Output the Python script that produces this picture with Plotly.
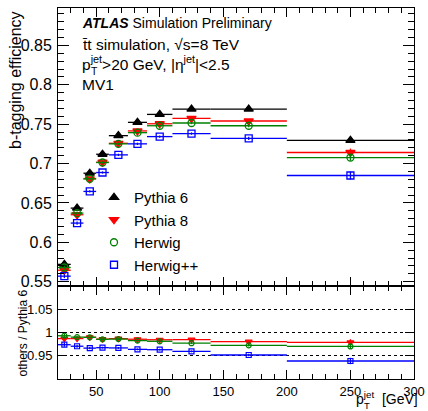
import plotly.graph_objects as go

# ---------------- data ----------------
pt_edges = [20, 30, 40, 50, 60, 75, 90, 110, 140, 200, 300]
pythia6 = [0.572, 0.6434, 0.6877, 0.7118, 0.7354, 0.7523, 0.7624, 0.7692, 0.7692, 0.7295]
pythia8 = [0.5645, 0.635, 0.6806, 0.7017, 0.7257, 0.7414, 0.7505, 0.7574, 0.754, 0.714]
herwig = [0.568, 0.637, 0.6806, 0.7013, 0.725, 0.7392, 0.748, 0.7515, 0.748, 0.7076]
herwigpp = [0.557, 0.6244, 0.6646, 0.6886, 0.711, 0.725, 0.7342, 0.738, 0.732, 0.6848]
err_p6 = [0.0025, 0.002, 0.0015, 0.0015, 0.0015, 0.0015, 0.0015, 0.0015, 0.002, 0.003]
err_p8 = [0.0025, 0.002, 0.0015, 0.0015, 0.0015, 0.0015, 0.0015, 0.0015, 0.002, 0.005]
err_hw = [0.0025, 0.002, 0.0015, 0.0015, 0.0015, 0.0015, 0.0015, 0.0015, 0.002, 0.004]
err_hwpp = [0.0025, 0.002, 0.0015, 0.0015, 0.0015, 0.0015, 0.0015, 0.0015, 0.002, 0.005]

main_yticks = [0.55, 0.6, 0.65, 0.7, 0.75, 0.8, 0.85]
main_yticktext = ["0.55", "0.6", "0.65", "0.7", "0.75", "0.8", "0.85"]
ratio_yticks = [0.95, 1.0, 1.05]
ratio_yticktext = ["0.95", "1", "1.05"]
xticks = [50, 100, 150, 200, 250, 300]

centers = [(a + b) / 2 for a, b in zip(pt_edges[:-1], pt_edges[1:])]
halfw = [(b - a) / 2 for a, b in zip(pt_edges[:-1], pt_edges[1:])]

FONT = "Liberation Sans, Arial, Helvetica, sans-serif"
W, H = 428, 411
# plot-area edges in window pixels
SX0, SX1, SY0, SY1 = 58, 414, 8, 379
L, R, T, B = SX0, W - SX1, SY0, H - SY1
PW, PH = W - L - R, H - T - B
split_px = 286  # boundary between panels (window y)
ratio_top = (SY1 - split_px) / PH


def px(x):
    return (x - SX0) / PW


def py(y):
    return (SY1 - y) / PH


series = [
    ("Pythia 6", pythia6, err_p6, "black", "triangle-up", 8),
    ("Pythia 8", pythia8, err_p8, "#ff0000", "triangle-down", 8),
    ("Herwig", herwig, err_hw, "#008000", "circle-open", 7),
    ("Herwig++", herwigpp, err_hwpp, "#0000ff", "square-open", 7),
]

fig = go.Figure()
for name, vals, errs, col, sym, sz in series:
    fig.add_trace(go.Scatter(
        x=centers, y=vals, mode="markers", name=name,
        marker=dict(symbol=sym, size=sz, color=col, line=dict(color=col, width=1.3)),
        error_x=dict(type="data", array=halfw, symmetric=True, width=0, thickness=1.3, color=col),
        error_y=dict(type="data", array=errs, width=0, thickness=1.3, color=col),
        xaxis="x", yaxis="y", showlegend=True,
    ))

for name, vals, errs, col, sym, sz in series[1:]:
    ratio = [v / p for v, p in zip(vals, pythia6)]
    rerr = [e / p for e, p in zip(errs, pythia6)]
    fig.add_trace(go.Scatter(
        x=centers, y=ratio, mode="markers", name=name,
        marker=dict(symbol=sym, size=sz - 2, color=col, line=dict(color=col, width=1.2)),
        error_x=dict(type="data", array=halfw, symmetric=True, width=0, thickness=1.3, color=col),
        error_y=dict(type="data", array=rerr, width=0, thickness=1.3, color=col),
        xaxis="x2", yaxis="y2", showlegend=False,
    ))

axis_common = dict(showline=True, linecolor="black", linewidth=1, mirror="allticks",
                   ticks="inside", tickcolor="black", zeroline=False, showgrid=False,
                   tickfont=dict(family=FONT, size=16, color="black"))

fig.update_layout(
    width=W, height=H,
    margin=dict(l=L, r=R, t=T, b=B, pad=0, autoexpand=False),
    paper_bgcolor="white", plot_bgcolor="white",
    font=dict(family=FONT, color="black"),
    xaxis=dict(axis_common, domain=[0, 1], range=[20, 300], anchor="y",
               showticklabels=False, tickvals=xticks, ticklen=9,
               minor=dict(dtick=10, tick0=0, ticklen=5, ticks="inside", tickcolor="black")),
    yaxis=dict(axis_common, domain=[ratio_top, 1], range=[0.5445, 0.8975], anchor="x",
               tickvals=main_yticks, ticktext=main_yticktext, ticklen=11,
               ticklabelstandoff=2,
               minor=dict(dtick=0.01, tick0=0, ticklen=6, ticks="inside", tickcolor="black")),
    xaxis2=dict(axis_common, domain=[0, 1], range=[20, 300], anchor="y2", matches="x",
                tickvals=xticks, ticklen=9,
                tickfont=dict(family=FONT, size=13, color="black"),
                minor=dict(dtick=10, tick0=0, ticklen=5, ticks="inside", tickcolor="black")),
    yaxis2=dict(axis_common, domain=[0, ratio_top], range=[0.9, 1.1], anchor="x2",
                tickvals=ratio_yticks, ticktext=ratio_yticktext, ticklen=9,
                tickfont=dict(family=FONT, size=13, color="black"),
                showgrid=True, gridcolor="black", griddash="dot", gridwidth=1,
                ticklabelstandoff=2),
    legend=dict(x=px(94), y=py(181), xanchor="left", yanchor="top",
                bgcolor="rgba(0,0,0,0)", borderwidth=0,
                font=dict(family=FONT, size=15, color="black"),
                tracegroupgap=0, itemwidth=30),
)

ann = []


def add_text(x, y, text, size, xanchor="left", yanchor="middle", angle=0):
    ann.append(dict(x=px(x), y=py(y), xref="paper", yref="paper", text=text,
                    showarrow=False, xanchor=xanchor, yanchor=yanchor, textangle=angle,
                    font=dict(family=FONT, size=size, color="black")))


add_text(80, 23, "<b><i>ATLAS</i></b> Simulation Preliminary", 14)
add_text(80, 44, "t\u0304t simulation, \u221as=8 TeV", 15.5)
add_text(80, 63, "p<sup>jet</sup>&gt;20 GeV, |\u03b7<sup>jet</sup>|&lt;2.5", 15.5)
add_text(88.5, 71, "T", 10.5)
add_text(80, 84, "MV1", 15.5)
# axis titles
add_text(15, 9, "b-tagging efficiency", 16, xanchor="center", yanchor="top", angle=-90)
add_text(22, 288, "others / Pythia 6", 12, xanchor="center", yanchor="top", angle=-90)
add_text(354, 398, "p<sup>jet</sup>  [GeV]", 14)
add_text(361.5, 405, "T", 9.5)

fig.update_layout(annotations=ann)
fig.write_html("out.html", config={"displayModeBar": False},
               post_script="document.body.style.margin='0px';document.body.style.overflow='hidden';")
